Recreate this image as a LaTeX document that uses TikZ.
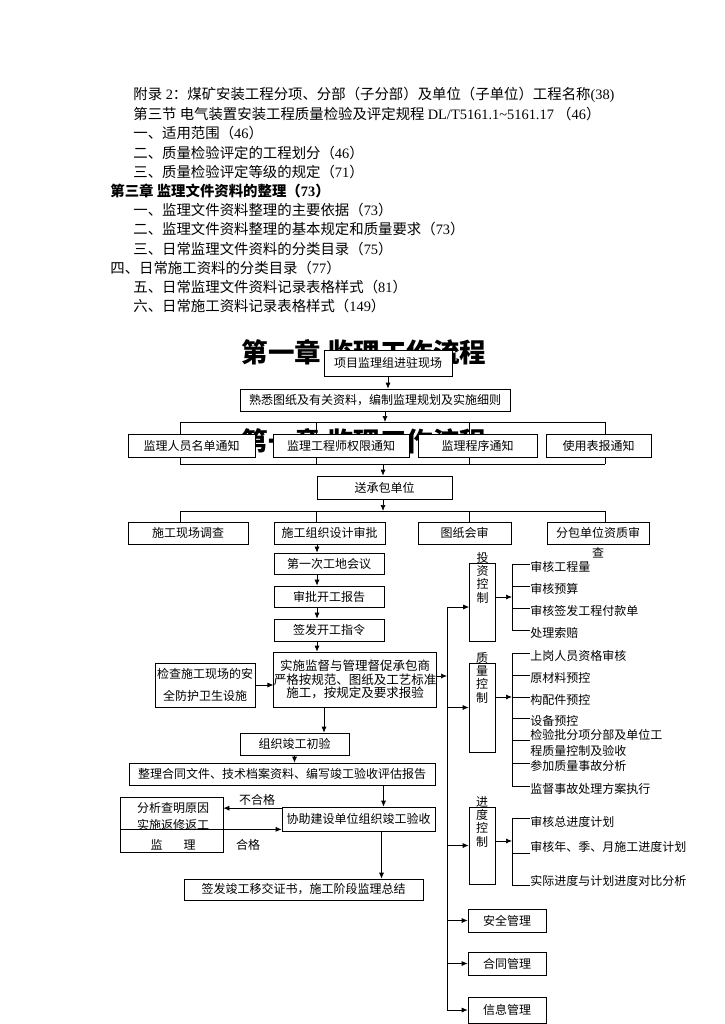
\documentclass[tikz,border=0pt]{standalone}
\usepackage{fontspec}
\setmainfont{Noto Sans CJK SC}
\newfontfamily\latinfont{Liberation Serif}
\newcommand{\latn}[1]{{\latinfont #1}}
\usetikzlibrary{arrows.meta,positioning}

\begin{document}
\begin{tikzpicture}[
  x=1pt, y=-1pt,
  line width=0.7pt,
  >={Latex[length=6pt,width=5pt]},
  box/.style={draw, fill=white, inner sep=0pt, align=center,
    font=\fontsize{12}{14}\selectfont},
  vbox/.style={draw, fill=white, inner sep=0pt, minimum width=26pt},
  vtext/.style={inner sep=0pt, align=center, font=\fontsize{12}{13.3}\selectfont},
  toc/.style={anchor=west, inner sep=0pt, font=\fontsize{14.4}{16}\selectfont},
  item/.style={anchor=west, inner sep=0pt, align=left, font=\fontsize{12}{16}\selectfont},
  note/.style={inner sep=0pt, font=\fontsize{12}{14}\selectfont},
  title/.style={inner sep=0pt, font=\fontsize{26.5}{28}\selectfont\bfseries},
  arrow/.style={->}
]
  \useasboundingbox (0,0) rectangle (724,1024);

  % contents list
  \node[toc] (t1) at (133,95) {附录\latn{ 2}：煤矿安装工程分项、分部（子分部）及单位（子单位）工程名称\latn{(38)}};
  \node[toc] (t2) at (133,114.2) {第三节 电气装置安装工程质量检验及评定规程 \latn{DL/T5161.1\textasciitilde5161.17} （\latn{46}）};
  \node[toc] (t3) at (133,133.4) {一、适用范围（\latn{46}）};
  \node[toc] (t4) at (133,152.6) {二、质量检验评定的工程划分（\latn{46}）};
  \node[toc] (t5) at (133,171.8) {三、质量检验评定等级的规定（\latn{71}）};
  \node[toc, font=\fontsize{14.4}{16}\selectfont\bfseries] (t6) at (110,191) {第三章 监理文件资料的整理（\latn{73}）};
  \node[toc] (t7) at (133,210.2) {一、监理文件资料整理的主要依据（\latn{73}）};
  \node[toc] (t8) at (133,229.4) {二、监理文件资料整理的基本规定和质量要求（\latn{73}）};
  \node[toc] (t9) at (133,248.6) {三、日常监理文件资料的分类目录（\latn{75}）};
  \node[toc] (t10) at (110,267.8) {四、日常施工资料的分类目录（\latn{77}）};
  \node[toc] (t11) at (133,287) {五、日常监理文件资料记录表格样式（\latn{81}）};
  \node[toc] (t12) at (133,306.2) {六、日常施工资料记录表格样式（\latn{149}）};

  % headings, the lower one mostly hidden by the notice boxes
  \node[title] (ghost) at (364,441) {第一章 监理工作流程};
  \node[title] (head) at (364,352) {第一章 监理工作流程};

  % bus lines under the notice and preparation rows
  \coordinate (ua1) at (180,422); \coordinate (ua2) at (316,422);
  \coordinate (ua3) at (469,422); \coordinate (ua4) at (605,422);
  \coordinate (ub1) at (180,464); \coordinate (ub2) at (316,464);
  \coordinate (ub3) at (469,464); \coordinate (ub4) at (605,464);
  \coordinate (uc1) at (180,511); \coordinate (uc2) at (316,511);
  \coordinate (uc3) at (469,511); \coordinate (uc4) at (605,511);
  \draw (ua1) -- (ua4);
  \draw (ub1) -- (ub4);
  \draw (uc1) -- (uc4);
  \foreach \i in {1,...,4} \draw (ua\i) -- (ub\i);

  \node[box, minimum width=128pt, minimum height=26pt] (a) at (388,363) {项目监理组进驻现场};
  \node[box, minimum width=270pt, minimum height=22pt] (b) at (375,400) {熟悉图纸及有关资料，编制监理规划及实施细则};

  \node[box, minimum width=127pt, minimum height=23pt] (n1) at (191.5,445.5) {监理人员名单通知};
  \node[box, minimum width=136pt, minimum height=23pt] (n2) at (341,445.5) {监理工程师权限通知};
  \node[box, minimum width=119pt, minimum height=23pt] (n3) at (477.5,445.5) {监理程序通知};
  \node[box, minimum width=105pt, minimum height=23pt] (n4) at (598.5,445.5) {使用表报通知};

  \node[box, minimum width=135pt, minimum height=23pt] (c) at (384.5,487.5) {送承包单位};

  \node[box, minimum width=120pt, minimum height=22pt] (d1) at (188,533) {施工现场调查};
  \node[box, minimum width=111pt, minimum height=22pt] (d2) at (329.5,533) {施工组织设计审批};
  \node[box, minimum width=93pt, minimum height=22pt] (d3) at (464.5,533) {图纸会审};
  \node[box, minimum width=102pt, minimum height=22pt] (d4) at (598,533) {分包单位资质审};
  \node[note, below=3pt of d4] (d4tail) {查};

  \node[box, minimum width=110pt, minimum height=21pt] (e) at (329,563.5) {第一次工地会议};
  \node[box, minimum width=110pt, minimum height=21pt] (f) at (329,596.5) {审批开工报告};
  \node[box, minimum width=110pt, minimum height=22pt] (g) at (329,630) {签发开工指令};
  \node[box, minimum width=162pt, minimum height=55pt, font=\fontsize{12.5}{13.5}\selectfont] (h) at (355,679.5)
    {实施监督与管理督促承包商\\严格按规范、图纸及工艺标准\\施工，按规定及要求报验};
  \node[box, minimum width=100pt, minimum height=44pt, font=\fontsize{12}{22}\selectfont] (i) at (205,685)
    {检查施工现场的安\\全防护卫生设施};

  \node[box, minimum width=109pt, minimum height=22pt] (j) at (294.5,744) {组织竣工初验};
  \node[box, minimum width=306pt, minimum height=22pt] (k) at (282,774) {整理合同文件、技术档案资料、编写竣工验收评估报告};
  \node[box, minimum width=153pt, minimum height=24pt] (l) at (358.5,819) {协助建设单位组织竣工验收};
  \node[box, minimum width=103pt, minimum height=55pt] (m) at (171.5,824.5) {};
  \node[note] (m1) at (173,808) {分析查明原因};
  \node[note] (m2) at (173,825) {实施返修返工};
  \node[note] (m3) at (173,845) {监\hspace{1.75em}理};
  \node[box, minimum width=239pt, minimum height=21pt] (n) at (303.5,889.5) {签发竣工移交证书，施工阶段监理总结};
  \node[note] (faillbl) at (257,800) {不合格};
  \node[note] (oklbl) at (248,845) {合格};

  % control boxes on the right
  \node[vbox, minimum height=78pt] (inv) at (482.5,602) {};
  \node[vtext] (invt) at ([yshift=-15pt]inv.north) {投\\资\\控\\制};
  \node[vbox, minimum height=89pt] (qual) at (482,707.5) {};
  \node[vtext] (qualt) at ([yshift=-15pt]qual.north) {质\\量\\控\\制};
  \node[vbox, minimum height=77pt] (prog) at (482,845.5) {};
  \node[vtext] (progt) at ([yshift=-15pt]prog.north) {进\\度\\控\\制};
  \node[box, minimum width=78pt, minimum height=23pt] (safe) at (507,920.5) {安全管理};
  \node[box, minimum width=78pt, minimum height=23pt] (cont) at (507,963.5) {合同管理};
  \node[box, minimum width=78pt, minimum height=26pt] (info) at (507,1010) {信息管理};

  \node[item] (iv1) at (530,567) {审核工程量};
  \node[item] (iv2) at (530,589) {审核预算};
  \node[item] (iv3) at (530,611) {审核签发工程付款单};
  \node[item] (iv4) at (530,633) {处理索赔};

  \node[item] (ql1) at (530,656) {上岗人员资格审核};
  \node[item] (ql2) at (530,678) {原材料预控};
  \node[item] (ql3) at (530,700) {构配件预控};
  \node[item] (ql4) at (530,721) {设备预控};
  \node[item] (ql5) at (530,743) {检验批分项分部及单位工\\程质量控制及验收};
  \node[item] (ql6) at (530,766) {参加质量事故分析};
  \node[item] (ql7) at (530,789) {监督事故处理方案执行};

  \node[item] (pg1) at (530,822) {审核总进度计划};
  \node[item] (pg2) at (530,847) {审核年、季、月施工进度计划};
  \node[item] (pg3) at (530,881) {实际进度与计划进度对比分析};

  % main column
  \coordinate (hub1) at (385,422);
  \coordinate (hub2) at (383,464);
  \coordinate (hub3) at (383,511);
  \coordinate (colx) at (317,0);
  \coordinate (colh) at (324,0);
  \draw[arrow] (a) -- (a |- b.north);
  \draw[arrow] (b.south -| hub1) -- (hub1);
  \draw[arrow] (hub2) -- (hub2 |- c.north);
  \draw[arrow] (c.south -| hub3) -- (hub3);
  \foreach \i/\t in {1/d1,2/d2,3/d3,4/d4} \draw (uc\i) -- (uc\i |- \t.north);
  \draw[arrow] (d2.south -| colx) -- (e.north -| colx);
  \draw[arrow] (e.south -| colx) -- (f.north -| colx);
  \draw[arrow] (f.south -| colx) -- (g.north -| colx);
  \draw[arrow] (g.south -| colx) -- (h.north -| colx);
  \draw[arrow] (i) -- (i -| h.west);
  \draw[arrow] (h.south -| colh) -- (j.north -| colh);
  \draw[arrow] (j) -- (j |- k.north);
  \draw[arrow] ([xshift=25pt]l.north |- k.south) -- ([xshift=25pt]l.north);
  \coordinate (fail) at ([yshift=-1.5pt]l.north west);
  \draw[arrow] (fail) -- (fail -| m.east);
  \coordinate (ok) at ([yshift=2pt]l.south west);
  \draw[arrow] (m.west |- ok) -- (ok);
  \draw[arrow] ([xshift=23pt]l.south) -- ([xshift=23pt]l.south |- n.north);

  % spine to the controls
  \coordinate (sptop) at (447,607);
  \draw (sptop) -- (sptop |- info.west);
  \draw[arrow] ([yshift=3.5pt]h.east) -- ([yshift=3.5pt]h.east -| sptop);
  \draw[arrow] (sptop) -- (sptop -| inv.west);
  \draw[arrow] (qual.west -| sptop) -- (qual.west);
  \draw[arrow] (prog.west -| sptop) -- (prog.west);
  \draw[arrow] (safe.west -| sptop) -- (safe.west);
  \draw[arrow] (cont.west -| sptop) -- (cont.west);
  \draw[arrow] (info.west -| sptop) -- (info.west);

  % brackets
  \draw ([yshift=3pt]iv1.west) -- ++(-18,0) |- ([yshift=3pt]iv4.west);
  \foreach \t in {iv2,iv3} \draw ([yshift=3pt]\t.west) -- ++(-18,0);
  \coordinate (invin) at (512,597);
  \draw[arrow] (inv.east |- invin) -- (invin);

  \draw ([yshift=3pt]ql1.west) -- ++(-18,0) |- ([yshift=3pt]ql7.west);
  \foreach \t in {ql2,ql3,ql4,ql5,ql6} \draw ([yshift=3pt]\t.west) -- ++(-18,0);
  \coordinate (qualin) at ([xshift=-18pt,yshift=3pt]ql3.west);
  \draw[arrow] (qual.east |- qualin) -- (qualin);

  \draw ([yshift=4pt]pg1.west) -- ++(-18,0) |- ([yshift=-4pt]pg3.west);
  \draw ([yshift=-6pt]pg2.west) -- ++(-18,0);
  \coordinate (progin) at (512,841);
  \draw[arrow] (prog.east |- progin) -- (progin);
\end{tikzpicture}
\end{document}
